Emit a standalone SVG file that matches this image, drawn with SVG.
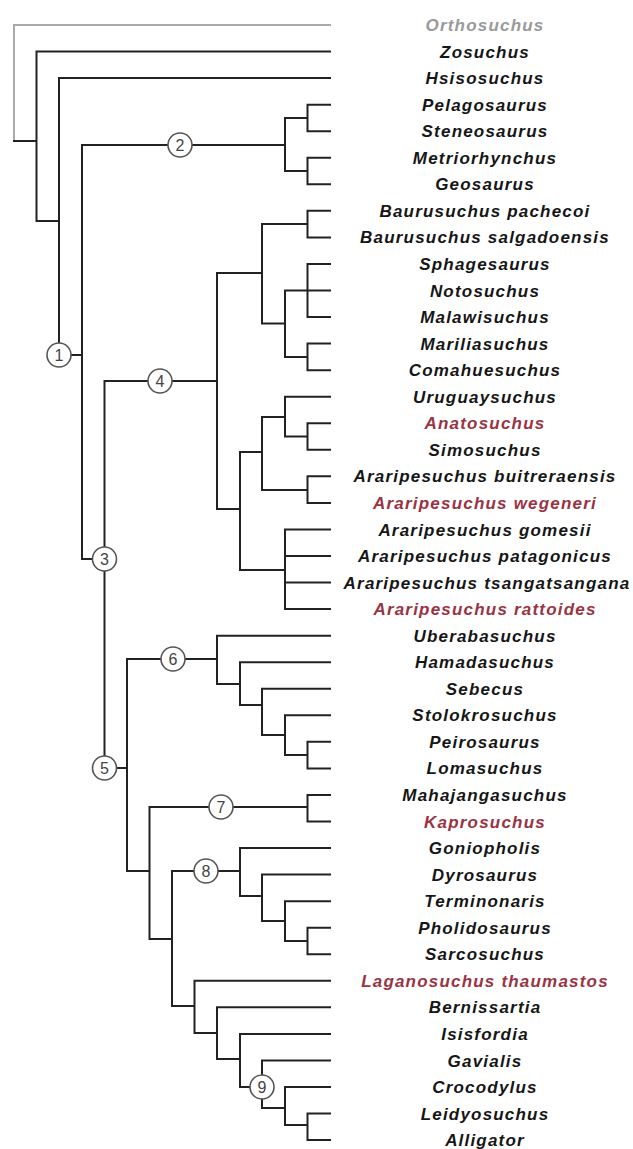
<svg xmlns="http://www.w3.org/2000/svg" width="633" height="1149" viewBox="0 0 633 1149">
<style>
.e{fill:none;stroke:#222;stroke-width:2;stroke-linecap:square}
.g{fill:none;stroke:#aaa;stroke-width:2;stroke-linecap:square}
.t{font-family:"Liberation Sans",Arial,sans-serif;font-size:17px;font-weight:bold;font-style:italic;letter-spacing:1.2px;text-anchor:middle;fill:#161616}
.r{fill:#9a3342}
.o{fill:#9a9a9a}
.c circle{fill:#fff;stroke:#555;stroke-width:1.6}
.c text{font-family:"Liberation Sans",Arial,sans-serif;font-size:16px;fill:#444;text-anchor:middle}
</style>
<rect width="633" height="1149" fill="#fff"/>
<g id="connectors">
<path class="g" d="M330,25H14V141"/>
<path class="e" d="M14,141H36.5 M36.5,51.55V221 M36.5,51.55H330 M36.5,221H59 M59,78.1V355 M59,78.1H330 M59,355H82 M82,145V559"/>
<path class="e" d="M82,145H285 M285,118V171 M285,118H307.5 M285,171H307.5 M307.5,104.65V131.2 M307.5,157.75V184.3 M307.5,104.65H330 M307.5,131.2H330 M307.5,157.75H330 M307.5,184.3H330"/>
<path class="e" d="M82,559H104.5 M104.5,381V768 M104.5,381H217 M217,273V509 M217,273H262 M262,224V323.5 M262,224H307.5 M307.5,210.85V237.4 M307.5,210.85H330 M307.5,237.4H330 M262,323.5H285 M285,290.5V357 M285,290.5H307.5 M307.5,263.95V317.05 M307.5,263.95H330 M307.5,290.5H330 M307.5,317.05H330 M285,357H307.5 M307.5,343.6V370.15 M307.5,343.6H330 M307.5,370.15H330"/>
<path class="e" d="M217,509H240 M240,452V570 M240,452H262 M262,417V490 M262,417H285 M285,396.7V436.5 M285,396.7H330 M285,436.5H307.5 M307.5,423.25V449.8 M307.5,423.25H330 M307.5,449.8H330 M262,490H307.5 M307.5,476.35V502.9 M307.5,476.35H330 M307.5,502.9H330 M240,570H285 M285,529.45V609.1 M285,529.45H330 M285,556H330 M285,582.55H330 M285,609.1H330"/>
<path class="e" d="M104.5,768H127 M127,659V871 M127,659H217 M217,635.65V684 M217,635.65H330 M217,684H240 M240,662.2V705 M240,662.2H330 M240,705H262 M262,688.75V735 M262,688.75H330 M262,735H285 M285,715.3V755 M285,715.3H330 M285,755H307.5 M307.5,741.85V768.4 M307.5,741.85H330 M307.5,768.4H330"/>
<path class="e" d="M127,871H149.5 M149.5,807V939 M149.5,807H307.5 M307.5,794.95V821.5 M307.5,794.95H330 M307.5,821.5H330 M149.5,939H172 M172,871V1006 M172,871H240 M240,848.05V896 M240,848.05H330 M240,896H262 M262,874.6V921 M262,874.6H330 M262,921H285 M285,901.15V941 M285,901.15H330 M285,941H307.5 M307.5,927.7V954.25 M307.5,927.7H330 M307.5,954.25H330"/>
<path class="e" d="M172,1006H194.5 M194.5,980.8V1033 M194.5,980.8H330 M194.5,1033H217 M217,1007.35V1059 M217,1007.35H330 M217,1059H240 M240,1033.9V1087 M240,1033.9H330 M240,1087H262 M262,1060.45V1108 M262,1060.45H330 M262,1108H285 M285,1087V1125 M285,1087H330 M285,1125H307.5 M307.5,1113.55V1140.1 M307.5,1113.55H330 M307.5,1140.1H330"/>
</g>
<g id="clade-labels" class="c">
<g id="node1"><circle cx="59" cy="355" r="12"/><text x="59" y="360.8">1</text></g>
<g id="node2"><circle cx="180" cy="145" r="12"/><text x="180" y="150.8">2</text></g>
<g id="node3"><circle cx="104.5" cy="559" r="12"/><text x="104.5" y="564.8">3</text></g>
<g id="node4"><circle cx="160" cy="381" r="12"/><text x="160" y="386.8">4</text></g>
<g id="node5"><circle cx="104.5" cy="768" r="12"/><text x="104.5" y="773.8">5</text></g>
<g id="node6"><circle cx="173" cy="659" r="12"/><text x="173" y="664.8">6</text></g>
<g id="node7"><circle cx="221" cy="807" r="12"/><text x="221" y="812.8">7</text></g>
<g id="node8"><circle cx="206" cy="871" r="12"/><text x="206" y="876.8">8</text></g>
<g id="node9"><circle cx="262" cy="1087" r="12"/><text x="262" y="1092.8">9</text></g>
</g>
<g id="taxa" class="t">
<text id="t0" class="o" x="485" y="31">Orthosuchus</text>
<text id="t1" x="485" y="57.6">Zosuchus</text>
<text id="t2" x="485" y="84.1">Hsisosuchus</text>
<text id="t3" x="485" y="110.7">Pelagosaurus</text>
<text id="t4" x="485" y="137.2">Steneosaurus</text>
<text id="t5" x="485" y="163.8">Metriorhynchus</text>
<text id="t6" x="485" y="190.3">Geosaurus</text>
<text id="t7" x="485" y="216.9">Baurusuchus pachecoi</text>
<text id="t8" x="485" y="243.4">Baurusuchus salgadoensis</text>
<text id="t9" x="485" y="270">Sphagesaurus</text>
<text id="t10" x="485" y="296.5">Notosuchus</text>
<text id="t11" x="485" y="323.1">Malawisuchus</text>
<text id="t12" x="485" y="349.6">Mariliasuchus</text>
<text id="t13" x="485" y="376.2">Comahuesuchus</text>
<text id="t14" x="485" y="402.7">Uruguaysuchus</text>
<text id="t15" class="r" x="485" y="429.3">Anatosuchus</text>
<text id="t16" x="485" y="455.8">Simosuchus</text>
<text id="t17" x="485" y="482.4">Araripesuchus buitreraensis</text>
<text id="t18" class="r" x="485" y="508.9">Araripesuchus wegeneri</text>
<text id="t19" x="485" y="535.5">Araripesuchus gomesii</text>
<text id="t20" x="485" y="562">Araripesuchus patagonicus</text>
<text id="t21" x="487" y="588.6">Araripesuchus tsangatsangana</text>
<text id="t22" class="r" x="485" y="615.1">Araripesuchus rattoides</text>
<text id="t23" x="485" y="641.7">Uberabasuchus</text>
<text id="t24" x="485" y="668.2">Hamadasuchus</text>
<text id="t25" x="485" y="694.8">Sebecus</text>
<text id="t26" x="485" y="721.3">Stolokrosuchus</text>
<text id="t27" x="485" y="747.9">Peirosaurus</text>
<text id="t28" x="485" y="774.4">Lomasuchus</text>
<text id="t29" x="485" y="801">Mahajangasuchus</text>
<text id="t30" class="r" x="485" y="827.5">Kaprosuchus</text>
<text id="t31" x="485" y="854.1">Goniopholis</text>
<text id="t32" x="485" y="880.6">Dyrosaurus</text>
<text id="t33" x="485" y="907.2">Terminonaris</text>
<text id="t34" x="485" y="933.7">Pholidosaurus</text>
<text id="t35" x="485" y="960.3">Sarcosuchus</text>
<text id="t36" class="r" x="485" y="986.8">Laganosuchus thaumastos</text>
<text id="t37" x="485" y="1013.4">Bernissartia</text>
<text id="t38" x="485" y="1039.9">Isisfordia</text>
<text id="t39" x="485" y="1066.5">Gavialis</text>
<text id="t40" x="485" y="1093">Crocodylus</text>
<text id="t41" x="485" y="1119.6">Leidyosuchus</text>
<text id="t42" x="485" y="1146.1">Alligator</text>
</g>
</svg>
